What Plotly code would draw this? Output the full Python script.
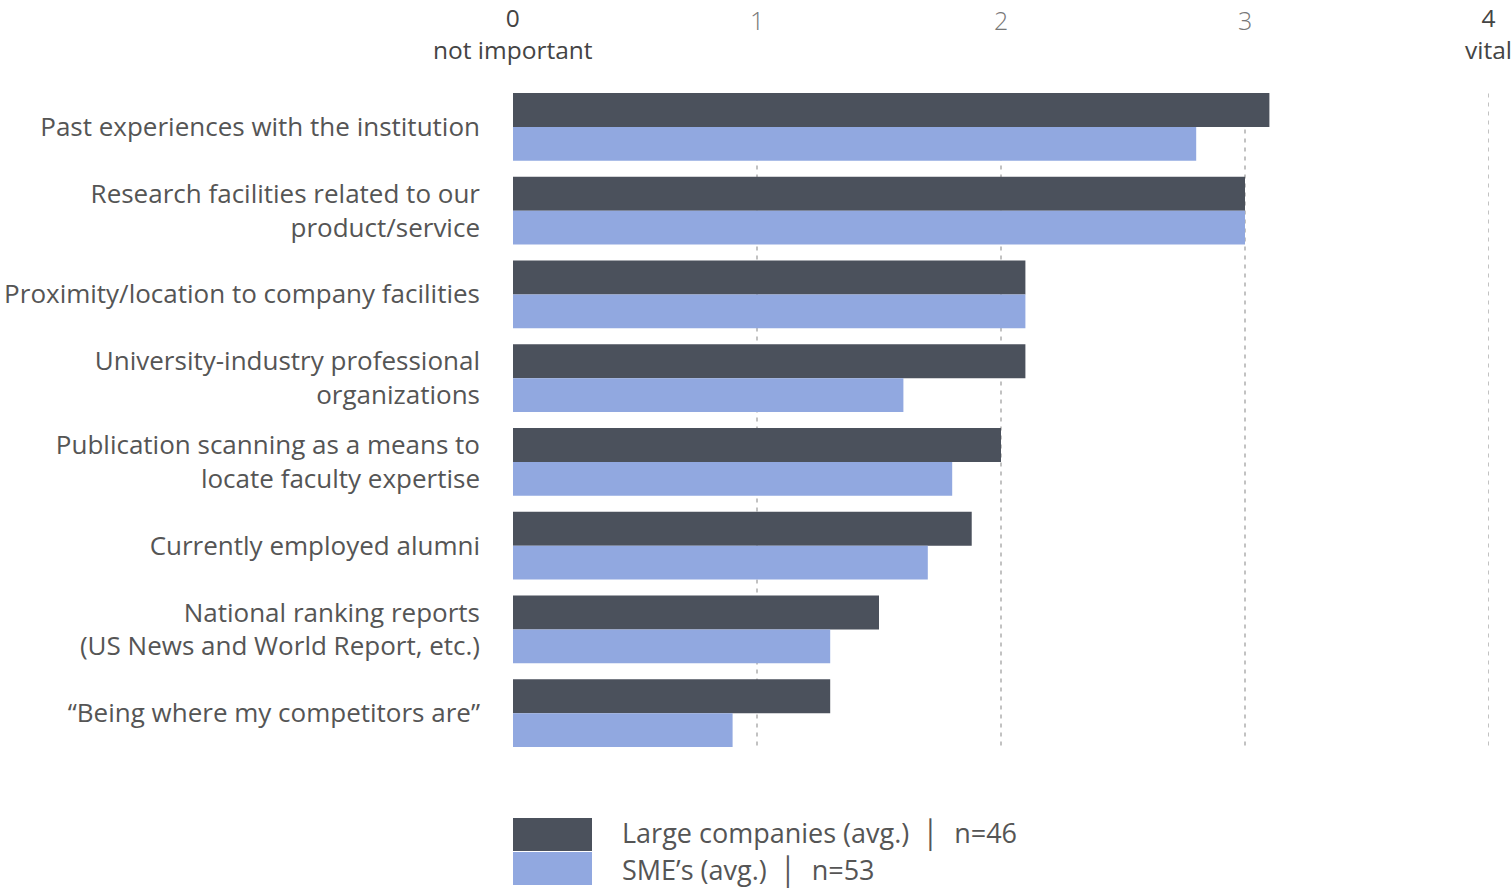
import plotly.graph_objects as go

categories = [
    "Past experiences with the institution",
    "Research facilities related to our<br>product/service",
    "Proximity/location to company facilities",
    "University-industry professional<br>organizations",
    "Publication scanning as a means to<br>locate faculty expertise",
    "Currently employed alumni",
    "National ranking reports<br>(US News and World Report, etc.)",
    "\u201cBeing where my competitors are\u201d",
]
large_vals = [3.10, 3.00, 2.10, 2.10, 2.00, 1.88, 1.50, 1.30]
sme_vals = [2.80, 3.00, 2.10, 1.60, 1.80, 1.70, 1.30, 0.90]
series_names = ["Large companies (avg.)\u00a0\u00a0\u2502\u00a0\u00a0n=46",
                "SME\u2019s (avg.)\u00a0\u00a0\u2502\u00a0\u00a0n=53"]
tick_vals = [0, 1, 2, 3, 4]
tick_top = ["0", "1", "2", "3", "4"]
tick_sub = ["not important", "", "", "", "vital"]

DARK = "#4b515c"
LIGHT = "#91a8e0"
TXT = "#555555"
FONT = "Open Sans, Liberation Sans, Arial, sans-serif"
FS = 26

W, H = 1511, 888
L, R, T, B = 513, 22, 85, 133
PW, PH = W - L - R, H - T - B

fig = go.Figure()
fig.add_trace(go.Bar(y=categories, x=large_vals, orientation="h", name=series_names[0],
                     marker=dict(color=DARK, line=dict(width=0)), showlegend=False))
fig.add_trace(go.Bar(y=categories, x=sme_vals, orientation="h", name=series_names[1],
                     marker=dict(color=LIGHT, line=dict(width=0)), showlegend=False))

# dashed gridlines (behind bars)
for v in tick_vals[1:]:
    fig.add_shape(type="line", xref="x", yref="y", x0=v, x1=v, y0=-0.4, y1=len(categories) - 0.6,
                  line=dict(color="#9a9a9a", width=1.2, dash="4px,5px"), layer="below")

# top axis labels
for v, t, s in zip(tick_vals, tick_top, tick_sub):
    if s:
        xs = -1 if v == 4 else 0
        fig.add_annotation(x=v, xref="x", yref="paper", y=1, yshift=T, xshift=xs,
                           text=t + "<br>" + s, showarrow=False, yanchor="top", borderpad=0,
                           font=dict(size=24.5, color="#444", family=FONT))
    else:
        fig.add_annotation(x=v, xref="x", yref="paper", y=1, yshift=65,
                           text=t, showarrow=False, yanchor="middle",
                           font=dict(size=25, color="#777", family=FONT, weight=300))

# legend (custom)
def py(pix):
    return -(pix - (T + PH)) / PH

fig.add_shape(type="rect", xref="paper", yref="paper", x0=0, x1=79 / PW,
              y0=py(818), y1=py(851), fillcolor=DARK, line=dict(width=0))
fig.add_shape(type="rect", xref="paper", yref="paper", x0=0, x1=79 / PW,
              y0=py(852), y1=py(885), fillcolor=LIGHT, line=dict(width=0))
for name, yc in zip(series_names, [833, 870]):
    fig.add_annotation(xref="paper", yref="paper", x=(107) / PW, y=py(yc),
                       text=name, showarrow=False, xanchor="left", yanchor="middle",
                       font=dict(size=27, color=TXT, family=FONT))

fig.update_layout(
    width=W, height=H,
    margin=dict(l=L, r=R, t=T, b=B, pad=0, autoexpand=False),
    barmode="group", bargap=0.19, bargroupgap=0,
    plot_bgcolor="white", paper_bgcolor="white",
    font=dict(family=FONT, color=TXT, size=FS),
    xaxis=dict(range=[0, 4], showgrid=False, zeroline=False, showticklabels=False,
               fixedrange=True, automargin=False),
    yaxis=dict(autorange="reversed", showgrid=False, zeroline=False, ticks="", fixedrange=True,
               automargin=False, ticklabelstandoff=32,
               tickfont=dict(size=FS, color=TXT, family=FONT)),
)

fig.write_html("out.html", config={"displayModeBar": False},
               post_script="document.body.style.margin='0';document.body.style.overflow='hidden';")
